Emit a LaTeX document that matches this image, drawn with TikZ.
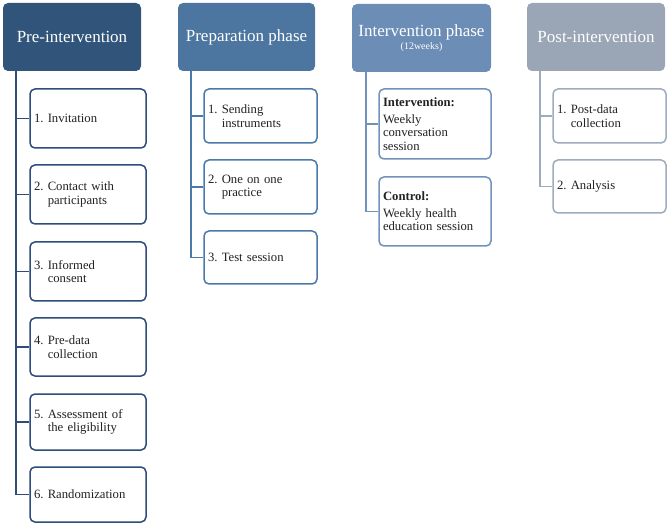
\documentclass[tikz,border=0pt]{standalone}
\usepackage{fontspec}
\setmainfont{Liberation Serif}
\begin{document}
\begin{tikzpicture}[x=1pt,y=-1pt,
  hdr/.style={rounded corners=5pt, minimum height=68pt, text=white,
    font=\fontsize{17}{19}\selectfont, align=center, inner sep=0pt},
  item/.style={draw=#1, line width=1.5pt, rounded corners=5pt, fill=white,
    font=\fontsize{12.7}{13.5}\selectfont, align=left, inner xsep=4pt, inner ysep=0pt},
  conn/.style={draw=#1, line width=1.6pt},
]
\definecolor{cA}{HTML}{31557A}
\definecolor{cB}{HTML}{4C76A0}
\definecolor{cC}{HTML}{6B8DB6}
\definecolor{cD}{HTML}{9AA6B5}
\definecolor{bA}{HTML}{2F4C7C}
\definecolor{bB}{HTML}{4B7AAA}
\definecolor{bC}{HTML}{7192BA}
\definecolor{bD}{HTML}{9DACBE}
\definecolor{txt}{HTML}{222222}
\useasboundingbox (0,0) rectangle (669,526);

% headers
\node[hdr, fill=cA, minimum width=138pt] (h1) at (72,37) {Pre-intervention};
\node[hdr, fill=cB, minimum width=137pt] (h2) at (246.5,37) {Preparation phase};
\node[hdr, fill=cC, minimum width=139pt] (h3) at (421.5,38) {Intervention phase\\[-6pt]{\fontsize{10}{11}\selectfont (12weeks)}};
\node[hdr, fill=cD, minimum width=138pt] (h4) at (596,37) {Post-intervention};

% column 1
\begin{scope}[every node/.append style={text=txt}]
\node[item=bA, minimum width=116pt, minimum height=59pt, text width=108pt] (a1) at (88,118.5) {1.~Invitation};
\node[item=bA, minimum width=116pt, minimum height=59pt, text width=108pt] (a2) at (88,194.5) {2.~Contact with\\\hphantom{2.~}participants};
\node[item=bA, minimum width=116pt, minimum height=59pt, text width=108pt] (a3) at (88,271.5) {3.~Informed\\\hphantom{3.~}consent};
\node[item=bA, minimum width=116pt, minimum height=58pt, text width=108pt] (a4) at (88,347) {4.~Pre-data\\\hphantom{4.~}collection};
\node[item=bA, minimum width=116pt, minimum height=56pt, text width=108pt] (a5) at (88,422) {5.~Assessment of\\\hphantom{5.~}the eligibility};
\node[item=bA, minimum width=116pt, minimum height=55pt, text width=108pt] (a6) at (88,494.5) {6.~Randomization};

% column 2
\node[item=bB, minimum width=113pt, minimum height=54pt, text width=105pt] (b1) at (260.5,116) {1.~Sending\\\hphantom{1.~}instruments};
\node[item=bB, minimum width=113pt, minimum height=54pt, text width=105pt] (b2) at (260.5,187) {2.~One on one\\\hphantom{2.~}practice};
\node[item=bB, minimum width=113pt, minimum height=53pt, text width=105pt] (b3) at (260.5,257.5) {3.~Test session};

% column 3
\node[item=bC, minimum width=112pt, minimum height=70pt, text width=104pt] (c1) at (435,124) {\textbf{Intervention:}\\[3pt]Weekly\\conversation\\session};
\node[item=bC, minimum width=112pt, minimum height=69pt, text width=104pt] (c2) at (435,211.5) {\textbf{Control:}\\[3pt]Weekly health\\education session};

% column 4
\node[item=bD, minimum width=113pt, minimum height=54pt, text width=105pt] (d1) at (609.5,116) {1.~Post-data\\\hphantom{1.~}collection};
\node[item=bD, minimum width=113pt, minimum height=53pt, text width=105pt] (d2) at (609.5,186.5) {2.~Analysis};
\end{scope}

% connectors
\foreach \n in {a1,a2,a3,a4,a5,a6}
  \draw[conn=bA] ([xshift=13pt]h1.south west) |- (\n.west);
\foreach \n in {b1,b2,b3}
  \draw[conn=bB] ([xshift=13pt]h2.south west) |- (\n.west);
\foreach \n in {c1,c2}
  \draw[conn=bC] ([xshift=14pt]h3.south west) |- (\n.west);
\foreach \n in {d1,d2}
  \draw[conn=bD] ([xshift=13pt]h4.south west) |- (\n.west);
\end{tikzpicture}
\end{document}
